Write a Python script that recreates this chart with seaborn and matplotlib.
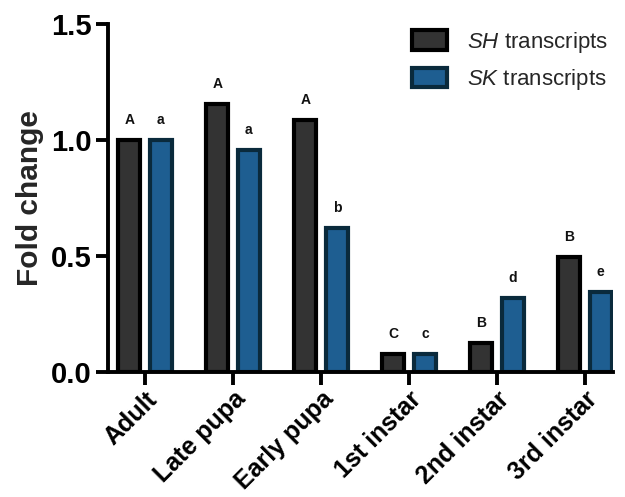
import matplotlib
matplotlib.use("Agg")
import matplotlib.pyplot as plt
import seaborn as sns
import pandas as pd
import numpy as np
from matplotlib.patches import Patch

stages = ["Adult", "Late pupa", "Early pupa", "1st instar", "2nd instar", "3rd instar"]
sh_values = [1.0, 1.155, 1.086, 0.078, 0.125, 0.496]
sk_values = [1.0, 0.957, 0.62, 0.078, 0.32, 0.345]
sh_letters = ["A", "A", "A", "C", "B", "B"]
sk_letters = ["a", "a", "b", "c", "d", "e"]
series = ["SH", "SK"]

sns.set_theme(style="ticks")
plt.rcParams["font.family"] = ["Liberation Sans", "DejaVu Sans"]
plt.rcParams["mathtext.fontset"] = "custom"
plt.rcParams["mathtext.it"] = "Liberation Sans:italic"
plt.rcParams["mathtext.rm"] = "Liberation Sans"

df = pd.DataFrame({
    "Stage": stages * 2,
    "Fold change": sh_values + sk_values,
    "Series": [series[0]] * len(stages) + [series[1]] * len(stages),
})

fills = {"SH": "#333333", "SK": "#1e5e91"}
edges = {"SH": "#000000", "SK": "#0a2a3c"}

fig = plt.figure(figsize=(6.25, 4.97), dpi=100)
ax = fig.add_axes([0.173, 0.252, 0.808, 0.700])

sns.barplot(data=df, x="Stage", y="Fold change", hue="Series", order=stages,
            hue_order=series, palette=fills, saturation=1, width=0.72, gap=0.3,
            linewidth=3, ax=ax, legend=False)

n = len(stages)
for i, p in enumerate(ax.patches[:2 * n]):
    s = series[i // n]
    p.set_edgecolor(edges[s])
    p.set_linewidth(3)

offset = 0.18
for i in range(n):
    ax.text(i - offset, sh_values[i] + 0.055, sh_letters[i], ha="center", va="bottom",
            fontsize=10, fontweight="bold", color="#111111")
    ax.text(i + offset, sk_values[i] + 0.055, sk_letters[i], ha="center", va="bottom",
            fontsize=10, fontweight="bold", color="#111111")

ax.set_ylim(0, 1.5)
ax.set_xlim(-0.42, 5.32)
ax.set_yticks([0, 0.5, 1.0, 1.5])
ax.set_yticklabels(["0.0", "0.5", "1.0", "1.5"], fontsize=21, fontweight="bold")
ax.set_xticks(range(n))
ax.set_xticklabels(stages, rotation=45, ha="right", rotation_mode="anchor",
                   fontsize=18, fontweight="bold")
ax.set_xlabel("")
ax.set_ylabel("Fold change", fontsize=21.5, fontweight="bold", labelpad=5)

for side in ["top", "right"]:
    ax.spines[side].set_visible(False)
for side in ["left", "bottom"]:
    ax.spines[side].set_linewidth(2.8)
    ax.spines[side].set_color("black")
ax.tick_params(axis="both", width=2.8, length=9, color="black", labelcolor="black")
ax.tick_params(axis="x", pad=2)
ax.tick_params(axis="y", pad=3)

handles = [Patch(facecolor=fills[s], edgecolor=edges[s], linewidth=3) for s in series]
labels = [r"$\it{SH}$ transcripts", r"$\it{SK}$ transcripts"]
ax.legend(handles, labels, loc="upper right", bbox_to_anchor=(1.03, 1.04), frameon=False,
          fontsize=16, handlelength=1.6, handleheight=1.0, labelspacing=0.55,
          handletextpad=0.9)

fig.savefig("out.png", dpi=100)
